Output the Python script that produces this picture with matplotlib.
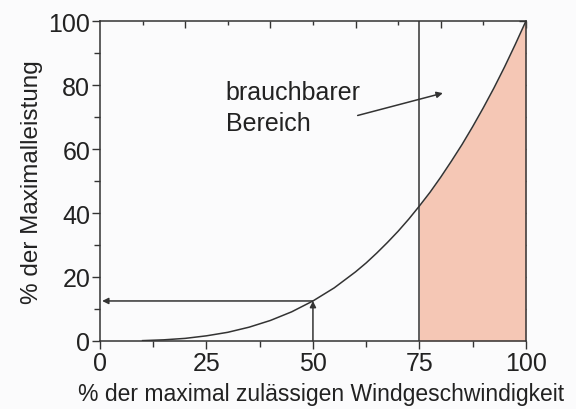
import numpy as np
import matplotlib
matplotlib.use("Agg")
import matplotlib.pyplot as plt

# values
wind = [0, 5, 10, 15, 20, 25, 30, 35, 40, 45, 50, 55, 60, 62.5, 65, 67.5, 70, 72.5,
        75, 77.5, 80, 82.5, 85, 87.5, 90, 92.5, 95, 97.5, 100]
power = [0, 0, 0.1, 0.35, 0.8, 1.6, 2.7, 4.3, 6.4, 9.1, 12.5, 16.6, 21.6, 24.4, 27.5,
         30.8, 34.3, 38.1, 42.2, 46.5, 51.2, 56.2, 61.4, 67.0, 72.9, 79.1, 85.7, 92.7, 100]
x_ticks = [0, 25, 50, 75, 100]
y_ticks = [0, 20, 40, 60, 80, 100]
cut_in = 75
mark_x, mark_y = 50, 12.5

plt.rcParams['font.family'] = ['Liberation Sans', 'DejaVu Sans']
ink = '#333333'

fig = plt.figure(figsize=(5.76, 4.10), dpi=100)
fig.patch.set_facecolor('#fbfbfc')
ax = fig.add_axes([0.1736, 0.166, 0.7394, 0.780])
ax.set_facecolor('#fbfbfc')

w = np.array(wind, float); p = np.array(power, float)
ax.plot(w[2:], p[2:], color=ink, lw=1.1)
sel = w >= cut_in
ax.fill_between(w[sel], 0, p[sel], color='#f5c7b5', lw=0)
ax.plot([cut_in, cut_in], [0, 100], color=ink, lw=1.1)

arr = dict(arrowstyle='-|>', color=ink, lw=1.1, mutation_scale=9, shrinkA=0, shrinkB=0)
ax.annotate('', xy=(0.5, mark_y), xytext=(mark_x, mark_y), arrowprops=arr)
ax.annotate('', xy=(mark_x, mark_y), xytext=(mark_x, 0), arrowprops=arr)
ax.annotate('', xy=(80.5, 77.5), xytext=(60.5, 70.5), arrowprops=arr)
ax.text(29.5, 81.5, 'brauchbarer\nBereich', fontsize=18, color='#222222',
        va='top', ha='left', linespacing=1.35)

ax.set_xlim(0, 100); ax.set_ylim(0, 100)
ax.set_xticks(x_ticks); ax.set_xticks(np.arange(12.5, 100, 25), minor=True)
ax.set_yticks(y_ticks); ax.set_yticks(np.arange(10, 100, 20), minor=True)
ax.tick_params(which='both', direction='out', colors=ink, labelcolor='#222222',
               labelsize=18, width=1)
ax.tick_params(which='major', length=6)
ax.tick_params(which='minor', length=4)
ax.tick_params(axis='x', pad=1)
ax.tick_params(axis='y', pad=1)
for s in ax.spines.values():
    s.set_color(ink); s.set_linewidth(1.1)

# mirrored tick marks on top and right, pointing inward
top = ax.secondary_xaxis('top')
top.set_xticks(np.arange(20, 101, 20)); top.set_xticks(np.arange(10, 100, 20), minor=True)
right = ax.secondary_yaxis('right')
right.set_yticks(np.arange(20, 101, 20)); right.set_yticks(np.arange(10, 100, 20), minor=True)
for sec in (top, right):
    sec.tick_params(which='both', direction='in', colors=ink, labelsize=0, width=1)
    sec.tick_params(which='major', length=5)
    sec.tick_params(which='minor', length=3)
    sec.set_xticklabels([]) if sec is top else sec.set_yticklabels([])
    for s in sec.spines.values():
        s.set_visible(False)

ax.set_xlabel('% der maximal zulässigen Windgeschwindigkeit', fontsize=16.5,
              color='#222222', va='center')
ax.xaxis.set_label_coords(0.52, -0.165)
ax.set_ylabel('% der Maximalleistung', fontsize=17.5, color='#222222', labelpad=4)

fig.savefig('out.png', dpi=100, facecolor=fig.get_facecolor())
